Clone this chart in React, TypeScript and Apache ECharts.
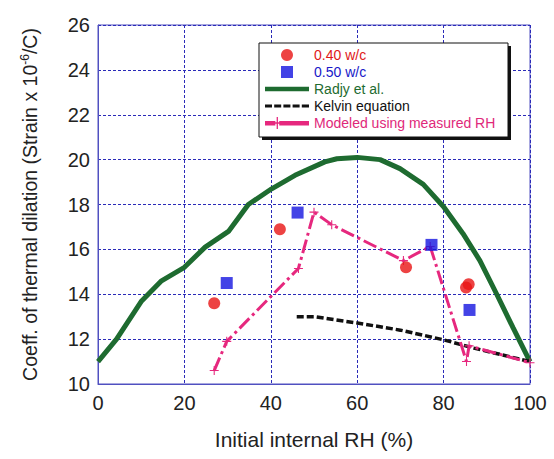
import React, { useEffect, useRef } from "react";
import * as echarts from "echarts";

const xTicks = [0, 20, 40, 60, 80, 100];
const yTicks = [10, 12, 14, 16, 18, 20, 22, 24, 26];

const wc040: [number, number][] = [
  [26.9, 13.6],
  [42.1, 16.9],
  [71.3, 15.2],
  [85.2, 14.3],
  [85.8, 14.45],
];
const wc050: [number, number][] = [
  [29.8, 14.5],
  [46.2, 17.64],
  [77.2, 16.2],
  [86.0, 13.3],
];
const radjy: [number, number][] = [
  [0, 11.0], [4.3, 12.0], [10.1, 13.7], [14.7, 14.6], [20, 15.2],
  [24.8, 16.1], [30.2, 16.8], [34.8, 18.0], [40.2, 18.7], [45.6, 19.3],
  [52.5, 19.9], [55.3, 20.04], [60, 20.1], [65.3, 20.0], [69.9, 19.6],
  [75.3, 18.9], [80, 17.9], [84.5, 16.7], [88.4, 15.5], [92.3, 14.0],
  [96.1, 12.5], [100, 11.0],
];
const kelvin: [number, number][] = [
  [46, 13.0], [50, 13.0], [60, 12.72], [70, 12.4], [80, 11.97],
  [87, 11.6], [100, 11.0],
];
const modeled: [number, number][] = [
  [26.9, 10.6], [29.8, 11.9], [46.4, 15.15], [50.0, 17.66], [54.1, 17.1],
  [70.7, 15.5], [76.9, 16.13], [85.3, 11.0], [85.9, 11.7], [100, 10.95],
];

const PLUS =
  "path://M4.4,0h1.2v4.4h4.4v1.2h-4.4v4.4h-1.2v-4.4h-4.4v-1.2h4.4z";
const ICON_SQUARE = "path://M0,0h10v10h-10z";
const ICON_GREEN = "path://M0,0h44v4.5h-44z";
const ICON_BLACK =
  "path://M0,0h7v3h-7zM9.2,0h7v3h-7zM18.4,0h7v3h-7zM27.6,0h7v3h-7zM36.8,0h7.2v3h-7.2z";
const ICON_PINK =
  "path://M10,3h8v3.5h-8zM21,3h23v3.5h-23zM19,0h1v4h4v1.2h-4v4h-1v-4h-4v-1.2h4z";

export default function App() {
  const ref = useRef<HTMLDivElement>(null);
  useEffect(() => {
    if (!ref.current) return;
    const chart = echarts.init(ref.current, undefined, { renderer: "svg" });
    const font = "'Liberation Sans', Arial, sans-serif";
    const gridColor = "#2a2ab8";
    chart.setOption({
      animation: false,
      textStyle: { fontFamily: font },
      grid: {
        left: 98,
        right: 24,
        top: 25,
        bottom: 75,
        show: true,
        borderColor: "#5050c0",
        borderWidth: 1,
        backgroundColor: "#ffffff",
      },
      xAxis: {
        type: "value",
        min: 0,
        max: 100,
        interval: 20,
        name: "Initial internal RH (%)",
        nameLocation: "middle",
        nameGap: 45,
        nameTextStyle: { fontSize: 21, color: "#222", fontFamily: font },
        axisLine: { show: true, lineStyle: { color: "#5050c0" } },
        axisTick: { show: false },
        axisLabel: {
          fontSize: 20,
          color: "#222",
          margin: 9,
          fontFamily: font,
          formatter: (v: number) => (xTicks.includes(v) ? String(v) : ""),
        },
        splitLine: {
          show: true,
          lineStyle: { color: gridColor, type: [3, 2], width: 1 },
        },
      },
      yAxis: {
        type: "value",
        min: 10,
        max: 26,
        interval: 2,
        name: "Coeff. of thermal dilation (Strain x 10{sup|-6}/C)",
        nameLocation: "middle",
        nameGap: 58,
        nameRotate: 90,
        nameTextStyle: {
          fontSize: 19.5,
          color: "#222",
          fontFamily: font,
          rich: {
            sup: {
              fontSize: 12,
              color: "#222",
              fontFamily: font,
              padding: [0, 0, 9, 0],
            },
          },
        },
        axisLine: { show: true, lineStyle: { color: "#5050c0" } },
        axisTick: { show: false },
        axisLabel: {
          fontSize: 20,
          color: "#222",
          margin: 8,
          fontFamily: font,
          formatter: (v: number) => (yTicks.includes(v) ? String(v) : ""),
        },
        splitLine: {
          show: true,
          lineStyle: { color: gridColor, type: [3, 2], width: 1 },
        },
      },
      legend: {
        orient: "vertical",
        left: 265,
        top: 48,
        padding: 0,
        itemWidth: 44,
        itemHeight: 12,
        itemGap: 3,
        symbolKeepAspect: true,
        z: 10,
        textStyle: { fontSize: 14, lineHeight: 14, fontFamily: font },
        data: [
          { name: "0.40 w/c", icon: "circle", textStyle: { color: "#e01818" } },
          { name: "0.50 w/c", icon: ICON_SQUARE, textStyle: { color: "#1818c8" } },
          { name: "Radjy et al.", icon: ICON_GREEN, textStyle: { color: "#1e6b30" } },
          { name: "Kelvin equation", icon: ICON_BLACK, textStyle: { color: "#111" } },
          {
            name: "Modeled using measured RH",
            icon: ICON_PINK,
            textStyle: { color: "#e0287a" },
          },
        ],
      },
      graphic: [
        {
          type: "rect",
          z: 8,
          shape: { x: 262, y: 46, width: 249, height: 94 },
          style: { fill: "#111" },
        },
        {
          type: "rect",
          z: 9,
          shape: { x: 259, y: 43, width: 249, height: 94 },
          style: { fill: "#fff", stroke: "#111", lineWidth: 1 },
        },
      ],
      series: [
        {
          name: "Radjy et al.",
          type: "line",
          data: radjy,
          symbol: "none",
          lineStyle: { color: "#1e6b30", width: 5 },
          itemStyle: { color: "#1e6b30" },
          z: 3,
        },
        {
          name: "Kelvin equation",
          type: "line",
          data: kelvin,
          symbol: "none",
          lineStyle: { color: "#111", width: 3.5, type: [7, 3] },
          itemStyle: { color: "#111" },
          z: 3,
        },
        {
          name: "Modeled using measured RH",
          type: "line",
          data: modeled,
          symbol: PLUS,
          symbolSize: 9,
          lineStyle: { color: "#e6287e", width: 3, type: [14, 4, 3, 4] },
          itemStyle: { color: "#e6287e" },
          z: 4,
        },
        {
          name: "0.40 w/c",
          type: "scatter",
          data: wc040,
          symbol: "circle",
          symbolSize: 12,
          itemStyle: { color: "#e81414" },
          z: 5,
        },
        {
          name: "0.50 w/c",
          type: "scatter",
          data: wc050,
          symbol: "rect",
          symbolSize: 12,
          itemStyle: { color: "#1414e0" },
          z: 5,
        },
      ],
    });
    return () => chart.dispose();
  }, []);
  return (
    <div
      ref={ref}
      style={{ position: "absolute", left: 0, top: 0, width: 554, height: 459 }}
    />
  );
}
